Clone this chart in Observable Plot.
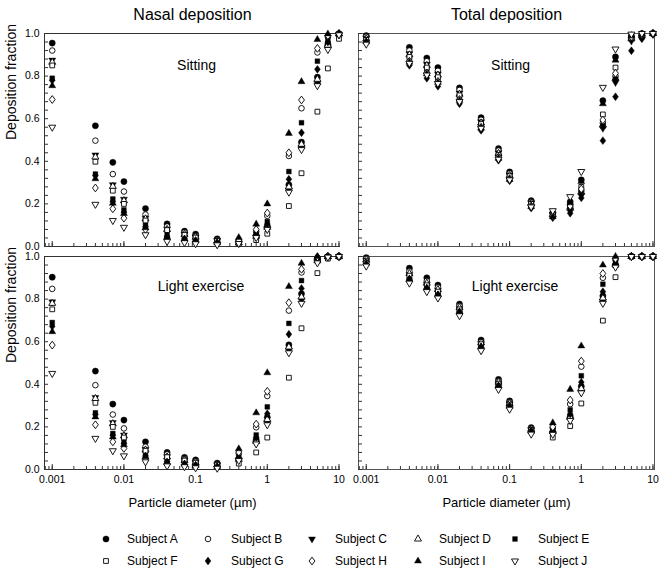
<!DOCTYPE html>
<html><head><meta charset="utf-8">
<script src="https://cdn.jsdelivr.net/npm/d3@7"></script>
<script src="https://cdn.jsdelivr.net/npm/@observablehq/plot@0.6"></script>
<style>
body{margin:0;background:#fff;font-family:"Liberation Sans",Arial,sans-serif;}
#wrap{position:relative;width:660px;height:573px;background:#fff;}
#legend{position:relative;width:660px;height:58px;}
.lsym{position:absolute;width:12px;height:12px;}
.llab{position:absolute;font-size:12px;line-height:14px;color:#000;white-space:nowrap;}
</style></head><body><div id="wrap"></div>
<script>
// ---- data ----
const diameters = [0.001, 0.004, 0.007, 0.01, 0.02, 0.04, 0.07, 0.1, 0.2, 0.4, 0.7, 1, 2, 3, 5, 7, 10];
const subjects = ["Subject A","Subject B","Subject C","Subject D","Subject E","Subject F","Subject G","Subject H","Subject I","Subject J"];
const columns = ["Nasal deposition", "Total deposition"];
const conditions = ["Sitting", "Light exercise"];
const xTickLabels = [0.001, 0.01, 0.1, 1, 10];
const yTickLabels = [0, 0.2, 0.4, 0.6, 0.8, 1.0];

const nasalSitting = [
  [.955,.567,.395,.305,.178,.106,.072,.058,.036,.018,.05,.095,.29,.49,.795,.95,1.0],
  [.92,.497,.34,.258,.15,.094,.066,.05,.032,.028,.07,.144,.425,.649,.911,.985,.998],
  [.875,.43,.29,.222,.133,.082,.058,.045,.028,.016,.045,.085,.265,.465,.765,.935,.997],
  [.865,.42,.282,.215,.13,.08,.057,.044,.027,.017,.048,.09,.28,.48,.785,.945,.998],
  [.79,.34,.223,.172,.1,.055,.041,.031,.02,.022,.06,.117,.352,.581,.87,.97,.995],
  [.85,.398,.262,.2,.122,.077,.054,.042,.026,.012,.03,.06,.19,.344,.633,.836,.975],
  [.78,.333,.21,.161,.093,.048,.036,.028,.018,.02,.055,.105,.316,.534,.832,.96,.993],
  [.69,.275,.177,.133,.08,.04,.03,.023,.015,.03,.08,.157,.44,.688,.93,.99,.999],
  [.755,.318,.203,.155,.088,.044,.034,.027,.017,.042,.105,.2,.531,.774,.972,.998,1.0],
  [.56,.198,.122,.09,.055,.024,.018,.013,.008,.014,.042,.08,.255,.455,.755,.925,.994]
];
const nasalLight = [
  [.903,.462,.307,.232,.13,.08,.057,.045,.03,.05,.14,.245,.585,.825,.985,.999,1.0],
  [.848,.396,.258,.193,.107,.071,.05,.039,.026,.075,.198,.345,.746,.925,.995,1.0,1.0],
  [.787,.338,.22,.162,.094,.06,.044,.034,.022,.045,.125,.22,.56,.795,.975,.998,1.0],
  [.78,.333,.215,.158,.092,.059,.043,.033,.022,.048,.132,.235,.575,.81,.98,.999,1.0],
  [.69,.266,.169,.13,.071,.04,.03,.023,.015,.058,.162,.294,.686,.887,.99,1.0,1.0],
  [.752,.313,.2,.15,.088,.058,.042,.032,.021,.028,.08,.15,.431,.663,.922,.99,1.0],
  [.672,.258,.161,.122,.063,.036,.026,.02,.013,.054,.15,.262,.635,.85,.985,.999,1.0],
  [.584,.21,.13,.099,.052,.028,.022,.017,.011,.082,.213,.367,.783,.94,.998,1.0,1.0],
  [.647,.247,.153,.116,.06,.033,.025,.019,.012,.097,.266,.454,.859,.968,1.0,1.0,1.0],
  [.451,.146,.088,.064,.036,.017,.013,.008,.006,.042,.12,.21,.548,.78,.97,.997,1.0]
];
const totalSitting = [
  [.99,.935,.885,.84,.745,.605,.46,.35,.215,.158,.21,.313,.685,.89,.99,1.0,1.0],
  [.985,.92,.87,.825,.735,.595,.45,.343,.21,.155,.185,.262,.58,.8,.98,.99,1.0],
  [.978,.905,.855,.81,.72,.585,.44,.336,.205,.152,.17,.24,.555,.77,.965,.98,1.0],
  [.975,.9,.85,.805,.715,.58,.437,.333,.203,.15,.18,.255,.57,.79,.975,.99,1.0],
  [.965,.88,.83,.785,.7,.57,.425,.325,.195,.145,.175,.25,.565,.785,.975,.985,1.0],
  [.97,.89,.84,.795,.71,.575,.43,.33,.2,.148,.195,.28,.62,.84,.98,.99,1.0],
  [.955,.85,.79,.752,.67,.545,.405,.308,.18,.135,.156,.228,.497,.703,.919,.975,.995],
  [.96,.87,.815,.775,.69,.56,.42,.318,.19,.143,.19,.27,.594,.813,.985,.995,1.0],
  [.962,.865,.81,.77,.685,.557,.415,.315,.188,.14,.205,.305,.67,.875,.99,.998,1.0],
  [.95,.86,.805,.765,.68,.555,.41,.313,.186,.168,.234,.352,.747,.927,.997,1.0,1.0]
];
const totalLight = [
  [.995,.945,.9,.866,.777,.608,.423,.322,.197,.175,.25,.39,.815,.96,1,1,1],
  [.99,.93,.885,.855,.768,.6,.415,.315,.192,.195,.307,.483,.9,.985,1,1,1],
  [.98,.915,.87,.84,.755,.59,.405,.308,.187,.17,.235,.365,.79,.955,1,1,1],
  [.985,.92,.875,.845,.76,.595,.41,.31,.189,.178,.245,.38,.805,.96,1,1,1],
  [.975,.9,.855,.825,.745,.58,.398,.3,.182,.185,.28,.44,.87,.975,1,1,1],
  [.978,.91,.865,.835,.752,.588,.403,.305,.185,.15,.204,.31,.699,.903,1,1,1],
  [.97,.895,.85,.82,.74,.575,.393,.297,.18,.18,.26,.41,.835,.965,1,1,1],
  [.972,.89,.848,.818,.738,.573,.39,.295,.178,.2,.326,.509,.92,.99,1,1,1],
  [.968,.893,.852,.82,.74,.575,.392,.296,.18,.219,.376,.58,.96,1,1,1,1],
  [.955,.875,.835,.805,.722,.558,.376,.283,.166,.165,.23,.36,.78,.95,1,1,1]
];

// ---- build table ----
const panels = [
  {col: columns[0], cond: conditions[0], values: nasalSitting},
  {col: columns[1], cond: conditions[0], values: totalSitting},
  {col: columns[0], cond: conditions[1], values: nasalLight},
  {col: columns[1], cond: conditions[1], values: totalLight}
];
const table = [];
for (const p of panels) p.values.forEach((row, i) => row.forEach((v, j) =>
  table.push({col: p.col, cond: p.cond, subject: subjects[i], d: diameters[j], f: v})));

// ---- symbols ----
const sqrt3 = Math.sqrt(3);
const symDown = {draw(ctx, size) {
  const y = -Math.sqrt(size / (sqrt3 * 3));
  ctx.moveTo(0, -y * 2); ctx.lineTo(-sqrt3 * y, y); ctx.lineTo(sqrt3 * y, y); ctx.closePath();
}};
const symDiamond = {draw(ctx, size) {
  const h = Math.sqrt(size / 1.5), w = 0.75 * h;
  ctx.moveTo(0, -h); ctx.lineTo(w, 0); ctx.lineTo(0, h); ctx.lineTo(-w, 0); ctx.closePath();
}};
const markerStyle = [
  {sym: d3.symbolCircle, filled: true, r: 3.1},
  {sym: d3.symbolCircle, filled: false, r: 2.8},
  {sym: symDown, filled: true, r: 2.6},
  {sym: d3.symbolTriangle, filled: false, r: 2.6},
  {sym: d3.symbolSquare, filled: true, r: 2.7},
  {sym: d3.symbolSquare, filled: false, r: 2.7},
  {sym: symDiamond, filled: true, r: 2.7},
  {sym: symDiamond, filled: false, r: 2.7},
  {sym: d3.symbolTriangle, filled: true, r: 2.6},
  {sym: symDown, filled: false, r: 2.6}
];

const xDomain = [0.00078, 10.5];
const xMinor = [];
for (let e = -4; e <= 1; e++) for (let m = 1; m <= 9; m++) {
  const v = m * Math.pow(10, e);
  if (v >= xDomain[0] && v <= xDomain[1]) xMinor.push(+v.toPrecision(3));
}
const yMinor = d3.range(0, 26).map(i => +(i * 0.04).toFixed(2));

const dots = subjects.map((s, i) => {
  const st = markerStyle[i];
  return Plot.dot(table.filter(d => d.subject === s), {
    x: "d", y: "f", fx: "col", fy: "cond",
    symbol: st.sym, r: st.r,
    fill: st.filled ? "black" : "white",
    stroke: "black", strokeWidth: st.filled ? 0.4 : 0.9
  });
});

const titleData = columns.map(c => ({col: c}));
const sittingData = columns.map(c => ({col: c, cond: conditions[0]}));
const lightData = columns.map(c => ({col: c, cond: conditions[1]}));

const chart = Plot.plot({
  width: 660, height: 515,
  marginLeft: 43, marginRight: 5, marginTop: 33, marginBottom: 45.7,
  style: {fontFamily: "'Liberation Sans', Arial, sans-serif", fontSize: "10.5px", color: "#000", background: "#fff", overflow: "visible"},
  fx: {domain: columns, padding: 0.0571, axis: null},
  fy: {domain: conditions, padding: 0.0448, axis: null},
  x: {type: "log", domain: xDomain},
  y: {domain: [0, 1]},
  marks: [
    Plot.ruleY([0, 1], {stroke: "#333", facetAnchor: "left"}),
    Plot.ruleX([xDomain[0]], {stroke: "#333", facetAnchor: "left"}),
    Plot.frame({stroke: "#555", facetAnchor: "right"}),
    Plot.axisY({ticks: yMinor, tickSize: -4, fill: "none", facetAnchor: null, anchor: "left", label: null, stroke: "#333"}),
    Plot.axisY({ticks: yTickLabels, tickSize: 0, tickPadding: 5, tickFormat: ".1f", facetAnchor: "left", anchor: "left", label: null, fontSize: 10.5}),
    Plot.axisX({ticks: xMinor, tickSize: -3, fill: "none", facetAnchor: null, anchor: "bottom", label: null, stroke: "#333"}),
    Plot.axisX({ticks: xTickLabels, tickSize: -5, fill: "none", facetAnchor: null, anchor: "bottom", label: null, stroke: "#333"}),
    Plot.axisX({ticks: xTickLabels, tickSize: 0, tickPadding: 6, tickFormat: d => String(d), facetAnchor: "bottom", anchor: "bottom", label: null, fontSize: 10.5}),
    ...dots,
    Plot.text(titleData, {fx: "col", text: "col", frameAnchor: "top", dy: -25, fontSize: 16, facetAnchor: "top"}),
    Plot.text(sittingData, {fx: "col", fy: "cond", text: "cond", frameAnchor: "top", dy: 27, dx: 4, fontSize: 14}),
    Plot.text(lightData, {fx: "col", fy: "cond", text: "cond", frameAnchor: "top", dy: 25, dx: 8.5, fontSize: 14}),
    Plot.text(["Deposition fraction"], {text: d => d, frameAnchor: "left", rotate: -90, dx: -33, fontSize: 14, facetAnchor: "left"}),
    Plot.text(["Particle diameter (µm)"], {text: d => d, frameAnchor: "bottom", dy: 37, fontSize: 13, facetAnchor: "bottom"})
  ]
});

const wrap = document.getElementById("wrap");
wrap.appendChild(chart);

// ---- legend ----
const legend = document.createElement("div");
legend.id = "legend";
wrap.appendChild(legend);
const legendSymX = [106, 208, 312, 418, 515];
const legendLabelX = [127, 231, 335, 439, 538];
const legendRowY = [24, 46];
subjects.forEach((s, i) => {
  const col = i % 5, row = Math.floor(i / 5), st = markerStyle[i];
  const svg = d3.create("svg").attr("class", "lsym").attr("width", 12).attr("height", 12)
    .style("left", (legendSymX[col] - 6) + "px").style("top", (legendRowY[row] - 6) + "px");
  svg.append("path").attr("transform", "translate(6,6)")
    .attr("d", d3.symbol(st.sym, Math.PI * st.r * st.r)())
    .attr("fill", st.filled ? "black" : "white").attr("stroke", "black")
    .attr("stroke-width", st.filled ? 0.4 : 0.9);
  legend.appendChild(svg.node());
  const lab = document.createElement("div");
  lab.className = "llab"; lab.textContent = s;
  lab.style.left = legendLabelX[col] + "px"; lab.style.top = (legendRowY[row] - 7) + "px";
  legend.appendChild(lab);
});
</script></body></html>
